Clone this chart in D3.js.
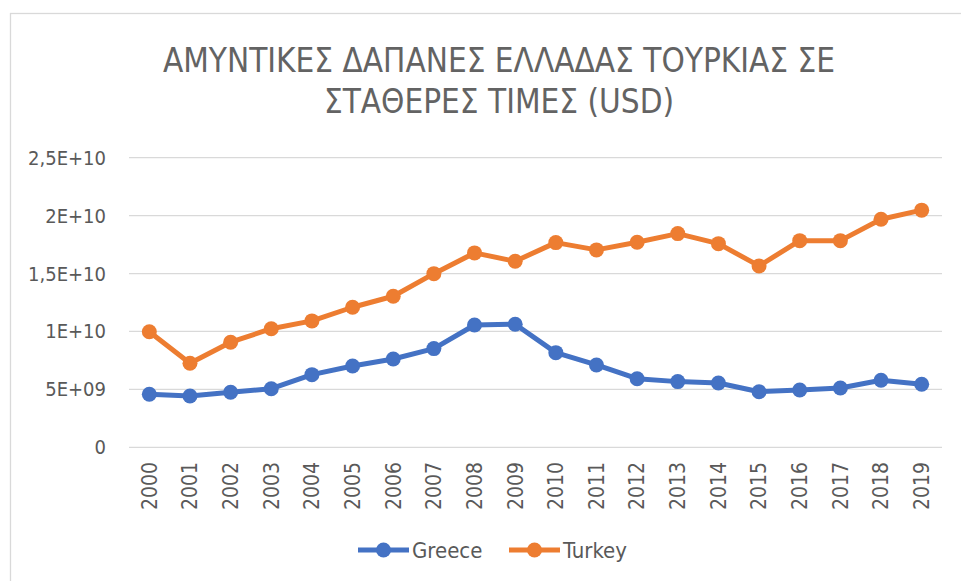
<!DOCTYPE html>
<html lang="el">
<head>
    <meta charset="UTF-8">
    <title>Αμυντικές δαπάνες</title>
    <style>
        body {
            margin: 0;
            padding: 0;
            background: #fff;
        }
        svg text {
            font-family: "Liberation Sans Narrow", "DejaVu Sans Condensed", sans-serif;
            fill: #595959;
        }
    </style>
</head>
<body>
    <div id="chart"></div>

    <script src="https://d3js.org/d3.v7.min.js"></script>
    <script>
        // data
        const years = ["2000", "2001", "2002", "2003", "2004", "2005", "2006", "2007", "2008", "2009",
                       "2010", "2011", "2012", "2013", "2014", "2015", "2016", "2017", "2018", "2019"];
        const greece = [4.58e9, 4.43e9, 4.75e9, 5.06e9, 6.27e9, 7.02e9, 7.62e9, 8.52e9, 10.56e9, 10.62e9,
                        8.17e9, 7.11e9, 5.92e9, 5.67e9, 5.55e9, 4.80e9, 4.95e9, 5.12e9, 5.79e9, 5.44e9];
        const turkey = [9.98e9, 7.25e9, 9.07e9, 10.24e9, 10.91e9, 12.09e9, 13.04e9, 14.99e9, 16.78e9, 16.06e9,
                        17.67e9, 17.04e9, 17.70e9, 18.45e9, 17.58e9, 15.66e9, 17.84e9, 17.84e9, 19.69e9, 20.47e9];
        const yTicks = [0, 5e9, 1e10, 1.5e10, 2e10, 2.5e10];
        const yTickLabels = ["0", "5E+09", "1E+10", "1,5E+10", "2E+10", "2,5E+10"];
        const titleLines = ["ΑΜΥΝΤΙΚΕΣ ΔΑΠΑΝΕΣ ΕΛΛΑΔΑΣ ΤΟΥΡΚΙΑΣ ΣΕ", "ΣΤΑΘΕΡΕΣ ΤΙΜΕΣ (USD)"];

        const series = [
            { name: "Greece", values: greece, color: "#4472C4" },
            { name: "Turkey", values: turkey, color: "#ED7D31" }
        ];

        const width = 961, height = 581;
        const plot = { left: 129, right: 942, top: 157.7, bottom: 447.3 };

        const svg = d3.select("#chart").append("svg")
            .attr("width", width)
            .attr("height", height);

        // chart frame
        svg.append("rect")
            .attr("x", 10.5).attr("y", 13.5)
            .attr("width", 1000).attr("height", 1000)
            .attr("fill", "#fff")
            .attr("stroke", "#D9D9D9")
            .attr("stroke-width", 1.3);

        // title
        svg.selectAll("text.title")
            .data(titleLines)
            .enter().append("text")
            .attr("class", "title")
            .attr("x", 499)
            .attr("y", (d, i) => 72 + i * 41)
            .attr("text-anchor", "middle")
            .attr("font-size", "33px")
            .style("fill", "#636363")
            .text(d => d);

        const x = d3.scaleBand()
            .domain(years)
            .range([plot.left, plot.right]);

        const y = d3.scaleLinear()
            .domain([0, 2.5e10])
            .range([plot.bottom, plot.top]);

        // gridlines
        svg.append("g")
            .selectAll("line")
            .data(yTicks)
            .enter().append("line")
            .attr("x1", plot.left)
            .attr("x2", plot.right)
            .attr("y1", d => y(d))
            .attr("y2", d => y(d))
            .attr("stroke", "#D9D9D9")
            .attr("stroke-width", 1.3);

        // y labels
        svg.append("g")
            .selectAll("text")
            .data(yTicks)
            .enter().append("text")
            .attr("x", 106)
            .attr("y", d => y(d))
            .attr("dy", "0.35em")
            .attr("text-anchor", "end")
            .attr("font-size", "20px")
            .text((d, i) => yTickLabels[i]);

        // x labels, rotated
        svg.append("g")
            .selectAll("text")
            .data(years)
            .enter().append("text")
            .attr("transform", d => `translate(${x(d) + x.bandwidth() / 2},462) rotate(-90)`)
            .attr("dy", "0.35em")
            .attr("text-anchor", "end")
            .attr("font-size", "21px")
            .text(d => d);

        const line = d3.line()
            .x((d, i) => x(years[i]) + x.bandwidth() / 2)
            .y(d => y(d));

        series.forEach(s => {
            svg.append("path")
                .datum(s.values)
                .attr("fill", "none")
                .attr("stroke", s.color)
                .attr("stroke-width", 5)
                .attr("stroke-linejoin", "round")
                .attr("d", line);

            svg.append("g")
                .selectAll("circle")
                .data(s.values)
                .enter().append("circle")
                .attr("cx", (d, i) => x(years[i]) + x.bandwidth() / 2)
                .attr("cy", d => y(d))
                .attr("r", 7.5)
                .attr("fill", s.color);
        });

        // legend
        const legend = svg.append("g")
            .selectAll("g")
            .data(series)
            .enter().append("g")
            .attr("transform", (d, i) => `translate(${358 + i * 151},550)`);

        legend.append("line")
            .attr("x1", 0).attr("x2", 51)
            .attr("stroke", d => d.color)
            .attr("stroke-width", 5);

        legend.append("circle")
            .attr("cx", 25.5)
            .attr("r", 7.5)
            .attr("fill", d => d.color);

        legend.append("text")
            .attr("x", 54)
            .attr("dy", "0.35em")
            .attr("font-size", "22px")
            .text(d => d.name);
    </script>
</body>
</html>
